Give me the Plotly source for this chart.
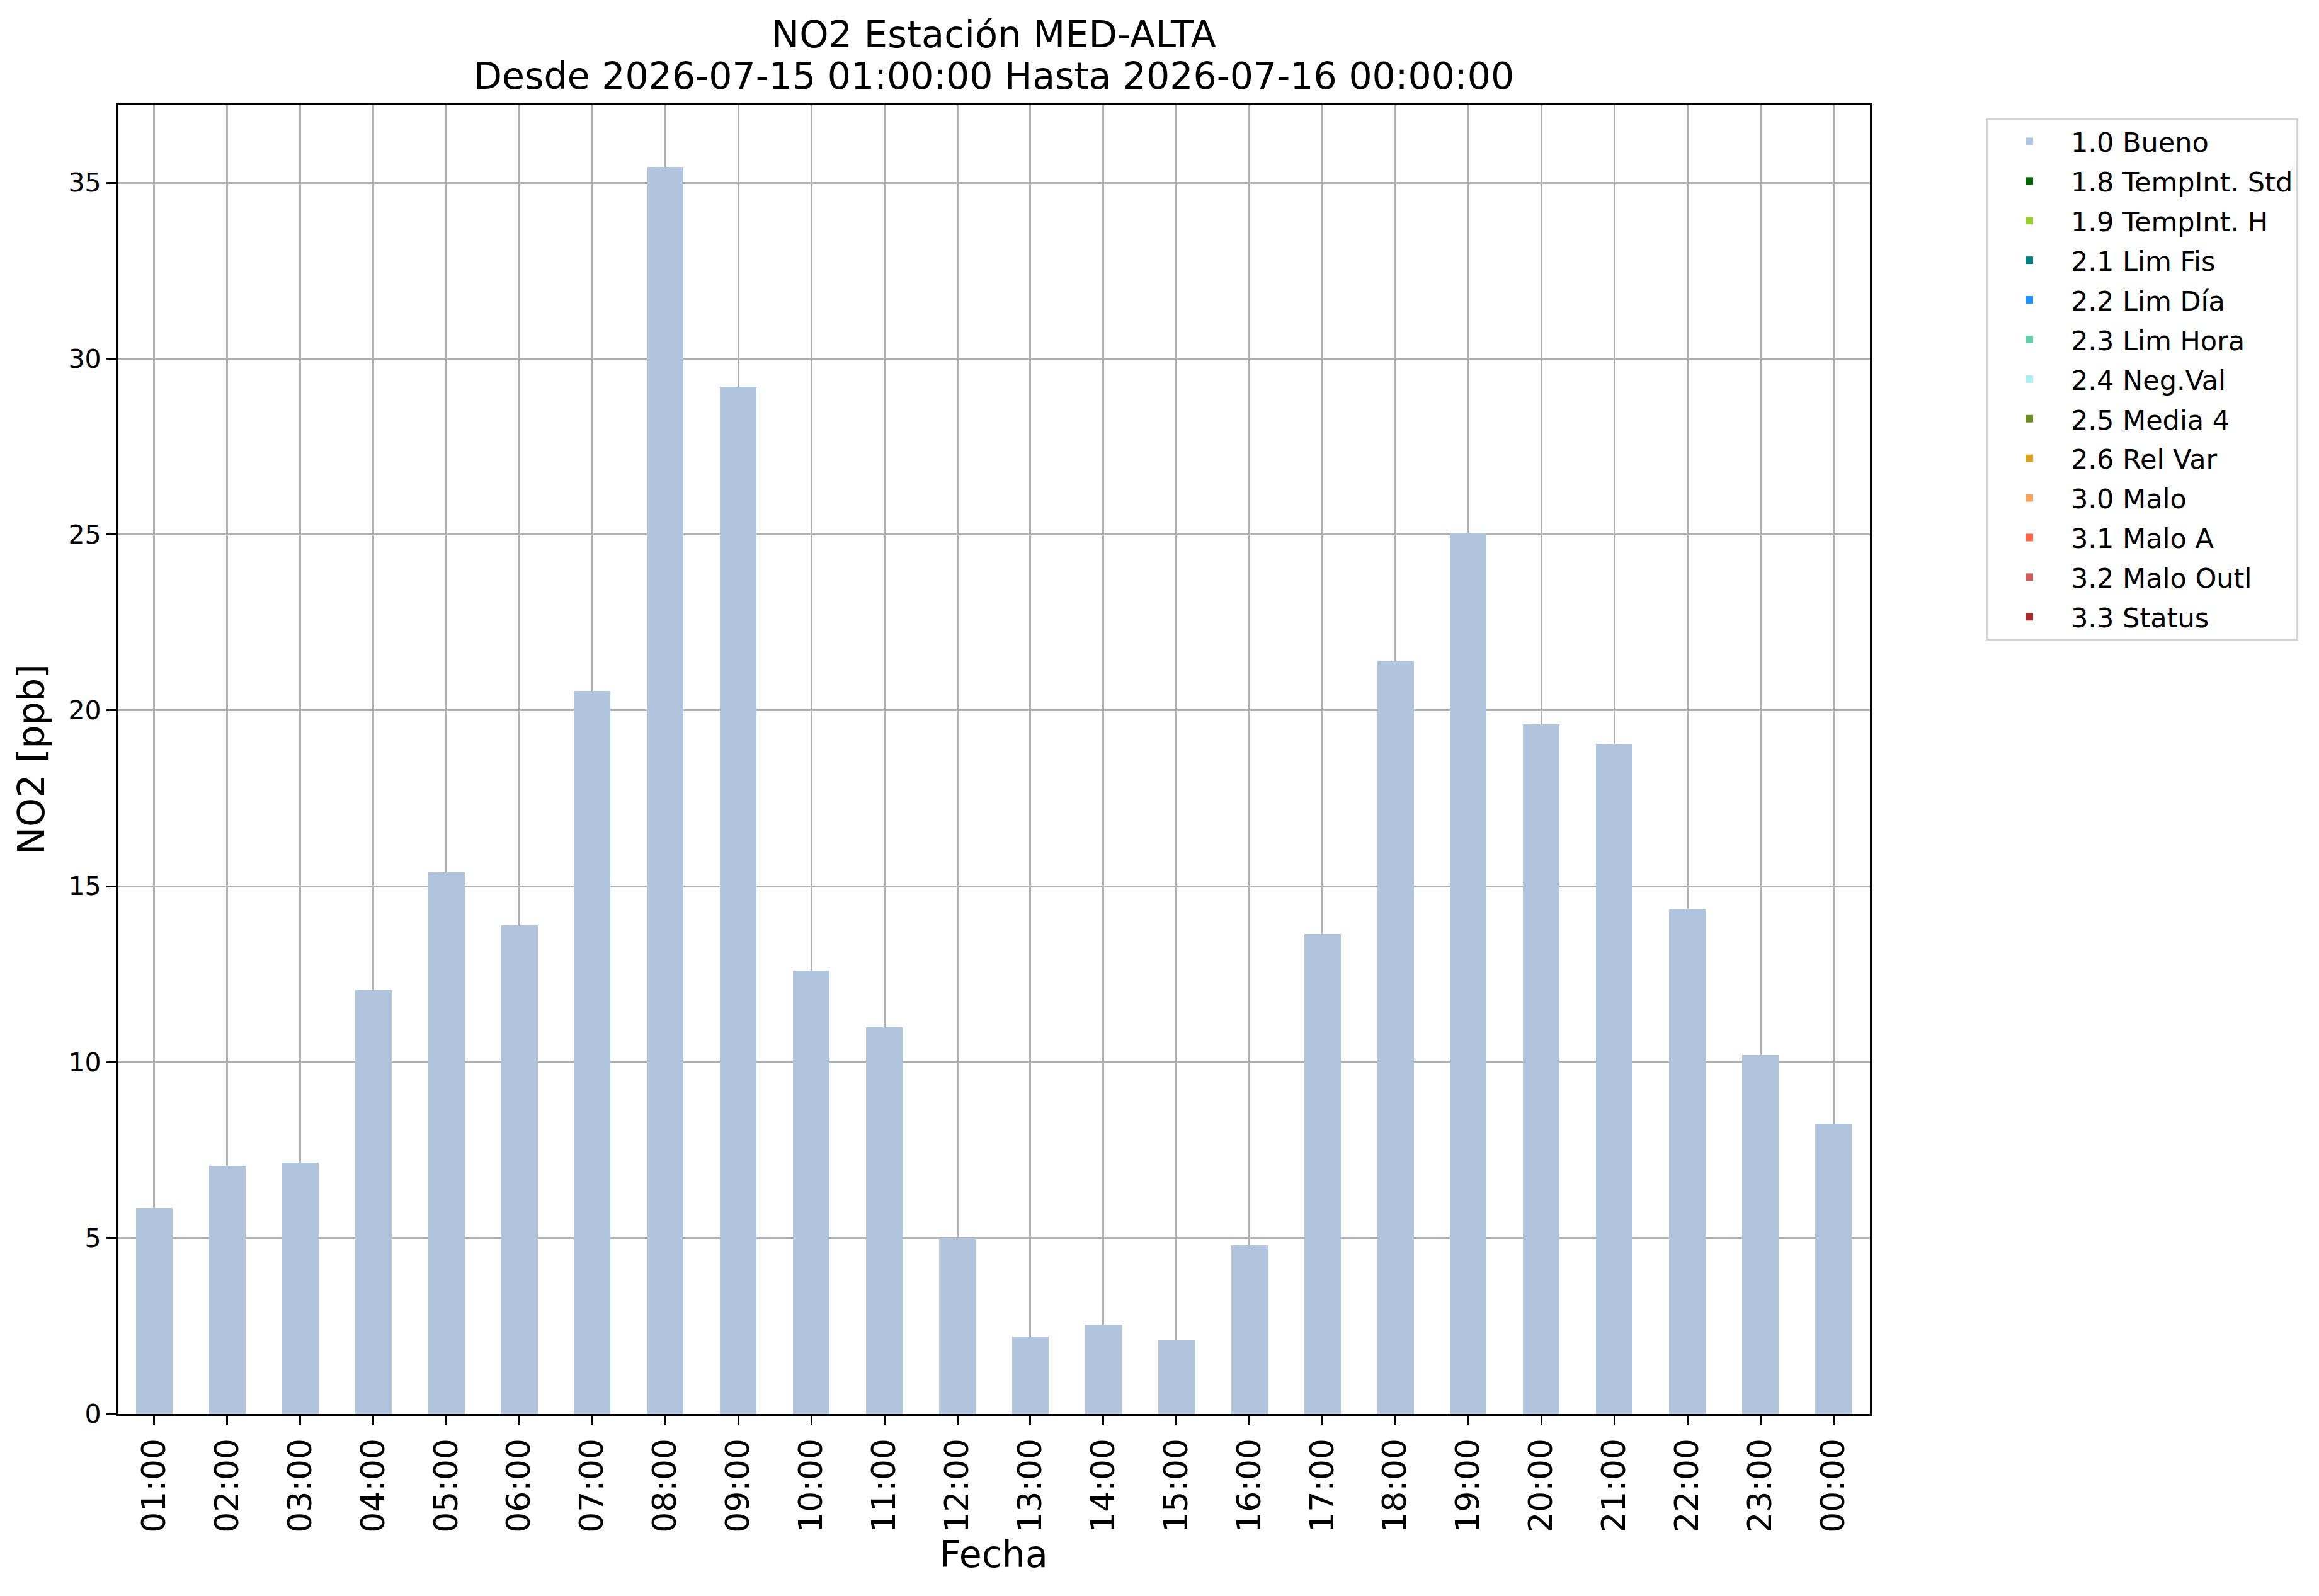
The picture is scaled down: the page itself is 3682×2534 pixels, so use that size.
import plotly.graph_objects as go

hours = ["01:00", "02:00", "03:00", "04:00", "05:00", "06:00", "07:00", "08:00",
         "09:00", "10:00", "11:00", "12:00", "13:00", "14:00", "15:00", "16:00",
         "17:00", "18:00", "19:00", "20:00", "21:00", "22:00", "23:00", "00:00"]

bueno = [5.85, 7.05, 7.15, 12.05, 15.4, 13.9, 20.55, 35.45, 29.2, 12.6, 11.0, 5.0,
         2.2, 2.55, 2.1, 4.8, 13.65, 21.4, 25.05, 19.6, 19.05, 14.35, 10.2, 8.25]

flag_names = ["1.0 Bueno", "1.8 TempInt. Std", "1.9 TempInt. H", "2.1 Lim Fis",
              "2.2 Lim Día", "2.3 Lim Hora", "2.4 Neg.Val", "2.5 Media 4",
              "2.6 Rel Var", "3.0 Malo", "3.1 Malo A", "3.2 Malo Outl", "3.3 Status"]
flag_colors = ["#B0C4DE", "#006400", "#9ACD32", "#008080", "#1E90FF", "#66CDAA",
               "#AFEEEE", "#6B8E23", "#DAA520", "#F4A460", "#FF6347", "#CD5C5C",
               "#A52A2A"]

# only "Bueno" has data in this period; other flags are empty
series = [bueno] + [[0] * len(hours) for _ in flag_names[1:]]

y_ticks = [0, 5, 10, 15, 20, 25, 30, 35]

title_line1 = "NO2 Estación MED-ALTA"
title_line2 = "Desde 2026-07-15 01:00:00 Hasta 2026-07-16 00:00:00"

FONT = "DejaVu Sans"
W, H = 3682, 2534
OFF = 8  # page body margin
L, R, T, B = 187 - OFF, 3682 - 2969 + OFF, 166 - OFF, 2534 - 2245 + OFF
PH = H - T - B
PW = W - L - R

fig = go.Figure()
for i, (name, color, vals) in enumerate(zip(flag_names, flag_colors, series)):
    fig.add_trace(go.Bar(
        x=hours, y=vals, name=name,
        marker=dict(color=color, line=dict(width=0)),
        legendgroup=f"g{i}",
    ))

axis_common = dict(
    showline=True, linecolor="black", linewidth=3.2, mirror=True,
    ticks="outside", ticklen=15, tickwidth=3.2, tickcolor="black",
    showgrid=True, gridcolor="#b0b0b0", gridwidth=3.2,
    layer="above traces", zeroline=False,
)

fig.update_layout(
    width=W, height=H,
    margin=dict(l=L, r=R, t=T, b=B, autoexpand=False),
    paper_bgcolor="white", plot_bgcolor="white",
    barmode="stack", bargap=0.5,
    font=dict(family=FONT, color="black", size=40),
    xaxis=dict(
        **axis_common,
        type="category", range=[-0.5, len(hours) - 0.5],
        tickangle=-90, tickfont=dict(size=52),
        title=dict(text="Fecha", font=dict(size=58.5), standoff=6),
    ),
    yaxis=dict(
        **axis_common,
        range=[0, 37.22], tickvals=y_ticks, tickfont=dict(size=41),
        title=dict(text="NO2 [ppb]", font=dict(size=58.5), standoff=20),
    ),
    legend=dict(
        x=(3153 - OFF - L) / PW, xanchor="left",
        y=(H - B - (187 - OFF)) / PH, yanchor="top",
        bordercolor="#d4d4d4", borderwidth=3, bgcolor="white",
        font=dict(family=FONT, size=43),
        traceorder="grouped", tracegroupgap=4, itemwidth=122,
    ),
    annotations=[
        dict(text=title_line1, xref="paper", yref="paper", x=0.5,
             y=(H - B - (54.5 - OFF)) / PH, xanchor="center", yanchor="middle",
             showarrow=False, font=dict(family=FONT, size=59, color="black")),
        dict(text=title_line2, xref="paper", yref="paper", x=0.5,
             y=(H - B - (121 - OFF)) / PH, xanchor="center", yanchor="middle",
             showarrow=False, font=dict(family=FONT, size=58.5, color="black")),
    ],
)

fig.write_html("out.html")
